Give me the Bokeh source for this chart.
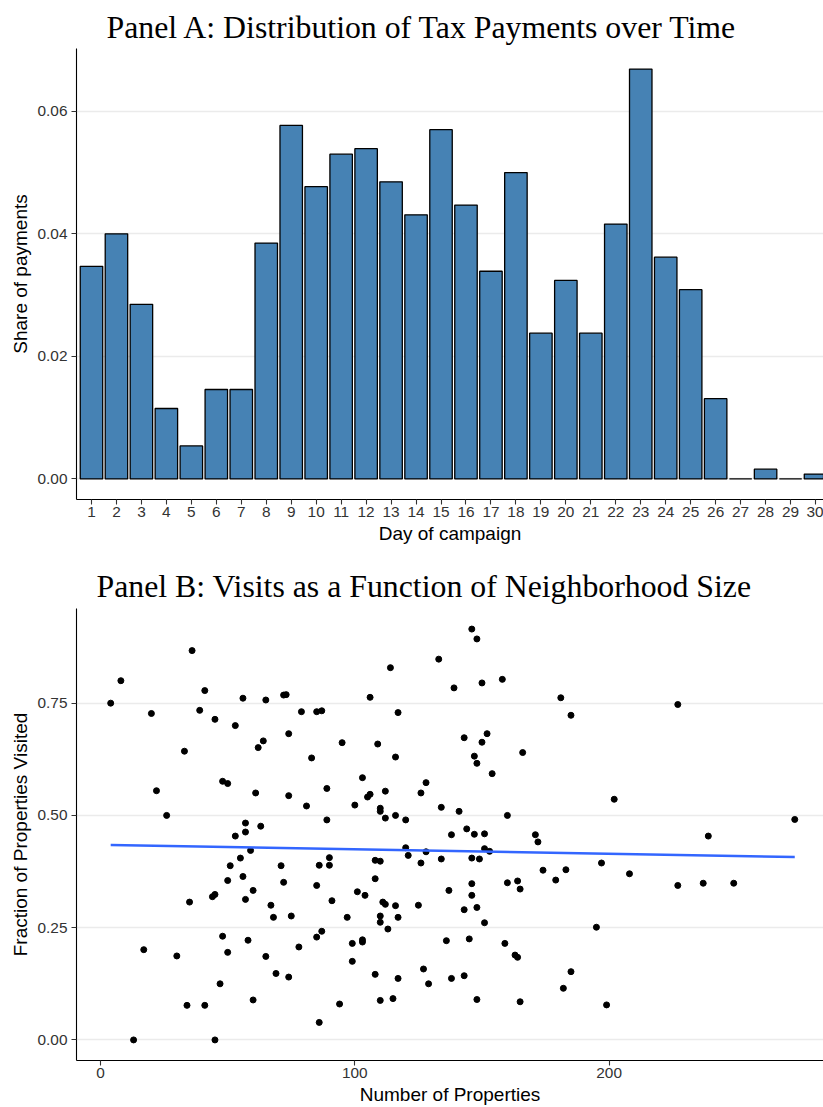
import numpy as np
from bokeh.plotting import figure
from bokeh.layouts import column
from bokeh.models import Range1d, FixedTicker, NumeralTickFormatter
from bokeh.embed import file_html
from bokeh.resources import INLINE

# ---- Panel A data: share of all tax payments made on each day of the campaign
days = list(range(1, 31))
share_of_payments = [0.0347, 0.0400, 0.0285, 0.0115, 0.0054, 0.0146, 0.0146, 0.0385,
                     0.0577, 0.0477, 0.0530, 0.0539, 0.0485, 0.0431, 0.0570, 0.0447,
                     0.0339, 0.0500, 0.0238, 0.0324, 0.0238, 0.0416, 0.0669, 0.0362,
                     0.0309, 0.0131, 0.0000, 0.0016, 0.0000, 0.0008]
share_ticks = [0.00, 0.02, 0.04, 0.06]

# ---- Panel B data: neighborhood size vs. fraction of properties visited
num_properties = [
    36, 8, 4, 41, 20, 39, 45, 56, 65, 72, 73, 53, 79, 85, 87, 106, 114, 117, 133,
    74, 33, 62, 64, 83, 95, 109, 116, 22, 48, 50, 61, 74, 89, 103, 105, 106, 112,
    126, 128, 81, 100, 110, 110, 112, 116, 120, 134, 26, 57, 57, 63, 53, 89, 59,
    55, 51, 71, 86, 90, 90, 108, 110, 120, 121, 128, 126, 134, 50, 56, 72, 85, 108,
    60, 35, 44, 45, 57, 67, 91, 101, 104, 111, 112, 116, 125, 68, 75, 97, 110, 110,
    117, 113, 48, 58, 85, 87, 99, 103, 103, 136, 17, 30, 50, 65, 78, 99, 69, 74,
    108, 117, 127, 129, 47, 34, 41, 60, 94, 110, 115, 86, 13, 45,
    146, 148, 139, 150, 158, 181, 227, 185, 143, 150, 152, 147, 148, 154, 166, 202,
    141, 160, 273, 138, 144, 147, 151, 171, 172, 239, 151, 153, 146, 149, 197, 174,
    183, 208, 137, 146, 160, 164, 165, 179, 227, 237, 249, 146, 143, 148, 151, 195,
    145, 159, 163, 164, 138, 143, 185, 182, 148, 165, 199]
frac_visited = [
    0.867, 0.800, 0.750, 0.778, 0.727, 0.734, 0.714, 0.761, 0.757, 0.768, 0.769,
    0.700, 0.731, 0.731, 0.733, 0.763, 0.829, 0.729, 0.848, 0.682, 0.643, 0.651,
    0.666, 0.628, 0.662, 0.659, 0.630, 0.555, 0.576, 0.571, 0.550, 0.544, 0.560,
    0.584, 0.541, 0.547, 0.554, 0.550, 0.573, 0.521, 0.523, 0.516, 0.509, 0.494,
    0.500, 0.490, 0.518, 0.500, 0.483, 0.463, 0.476, 0.454, 0.490, 0.422, 0.405,
    0.388, 0.388, 0.389, 0.406, 0.389, 0.400, 0.398, 0.428, 0.411, 0.419, 0.394,
    0.403, 0.355, 0.364, 0.351, 0.344, 0.359, 0.333, 0.307, 0.319, 0.324, 0.313,
    0.300, 0.310, 0.330, 0.322, 0.307, 0.302, 0.299, 0.300, 0.273, 0.276, 0.273,
    0.276, 0.262, 0.273, 0.247, 0.231, 0.222, 0.229, 0.242, 0.215, 0.223, 0.218,
    0.221, 0.201, 0.187, 0.195, 0.186, 0.207, 0.175, 0.148, 0.140, 0.146, 0.137,
    0.158, 0.125, 0.125, 0.077, 0.077, 0.089, 0.080, 0.088, 0.092, 0.039, 0.000,
    0.000,
    0.915, 0.893, 0.784, 0.795, 0.803, 0.762, 0.747, 0.723, 0.673, 0.663, 0.682,
    0.632, 0.616, 0.593, 0.640, 0.536, 0.509, 0.500, 0.491, 0.457, 0.470, 0.458,
    0.459, 0.457, 0.441, 0.454, 0.426, 0.420, 0.405, 0.403, 0.394, 0.378, 0.379,
    0.370, 0.333, 0.348, 0.350, 0.354, 0.336, 0.356, 0.344, 0.349, 0.349, 0.322,
    0.290, 0.295, 0.261, 0.251, 0.225, 0.215, 0.189, 0.184, 0.137, 0.143, 0.152,
    0.115, 0.090, 0.085, 0.078]
property_ticks = [0, 100, 200]
frac_ticks = [0.00, 0.25, 0.50, 0.75]

SANS = "Liberation Sans"
SERIF = "Liberation Serif"
WIDTH = 823


def style(p, title_offset, title_standoff):
    p.title.text_font = SERIF
    p.title.text_font_size = "31.8px"
    p.title.text_font_style = "normal"
    p.title.text_color = "black"
    p.title.align = "left"
    p.title.vertical_align = "top"
    p.title.offset = title_offset
    p.title.standoff = title_standoff
    p.outline_line_color = None
    p.background_fill_color = "white"
    p.border_fill_color = "white"
    p.xgrid.grid_line_color = None
    p.ygrid.grid_line_color = "#EBEBEB"
    p.ygrid.grid_line_width = 1.3
    for ax in (p.xaxis, p.yaxis):
        ax.axis_line_color = "black"
        ax.axis_line_width = 1.1
        ax.major_tick_line_color = "#333333"
        ax.major_tick_line_width = 1.1
        ax.major_tick_out = 5
        ax.major_tick_in = 0
        ax.minor_tick_line_color = None
        ax.major_label_text_font = SANS
        ax.major_label_text_font_size = "15.4px"
        ax.major_label_text_color = "#333333"
        ax.axis_label_text_font = SANS
        ax.axis_label_text_font_size = "19px"
        ax.axis_label_text_font_style = "normal"
        ax.axis_label_text_color = "black"
    p.xaxis.major_label_standoff = 2
    p.yaxis.major_label_standoff = 4
    p.xaxis.axis_label_standoff = 3
    p.yaxis.axis_label_standoff = 4


# ---- Panel A: bar chart of payments by day
pa = figure(width=WIDTH, height=556, output_backend="svg", toolbar_location=None,
            title="Panel A: Distribution of Tax Payments over Time",
            x_range=Range1d(0.4, 30.32), y_range=Range1d(-0.00335, 0.07025),
            min_border_left=76, min_border_right=0, min_border_top=48,
            min_border_bottom=57)
pa.vbar(x=days, top=share_of_payments, bottom=0, width=0.9,
        fill_color="#4682B4", line_color="black", line_width=1.3)
style(pa, 30, 4)
pa.xaxis.ticker = FixedTicker(ticks=days)
pa.yaxis.ticker = FixedTicker(ticks=share_ticks)
pa.yaxis.formatter = NumeralTickFormatter(format="0.00")
pa.xaxis.axis_label = "Day of campaign"
pa.yaxis.axis_label = "Share of payments"

# ---- Panel B: scatter with least-squares fit
x = np.array(num_properties, dtype=float)
y = np.array(frac_visited, dtype=float)
slope, intercept = np.polyfit(x, y, 1)
fit_x = np.array([x.min(), x.max()])
fit_y = intercept + slope * fit_x

pb = figure(width=WIDTH, height=551, output_backend="svg", toolbar_location=None,
            title="Panel B: Visits as a Function of Neighborhood Size",
            x_range=Range1d(-9.45, 284.3), y_range=Range1d(-0.0458, 0.9608),
            min_border_left=76, min_border_right=0, min_border_top=52,
            min_border_bottom=47)
pb.scatter(x=num_properties, y=frac_visited, size=6, fill_color="black",
           line_color="black")
pb.line(x=fit_x, y=fit_y, line_color="#3366FF", line_width=2.6)
style(pb, 20, 6)
pb.xaxis.ticker = FixedTicker(ticks=property_ticks)
pb.yaxis.ticker = FixedTicker(ticks=frac_ticks)
pb.yaxis.formatter = NumeralTickFormatter(format="0.00")
pb.xaxis.axis_label = "Number of Properties"
pb.yaxis.axis_label = "Fraction of Properties Visited"

layout = column(pa, pb, spacing=0)
open("out.html", "w").write(file_html(layout, INLINE))
